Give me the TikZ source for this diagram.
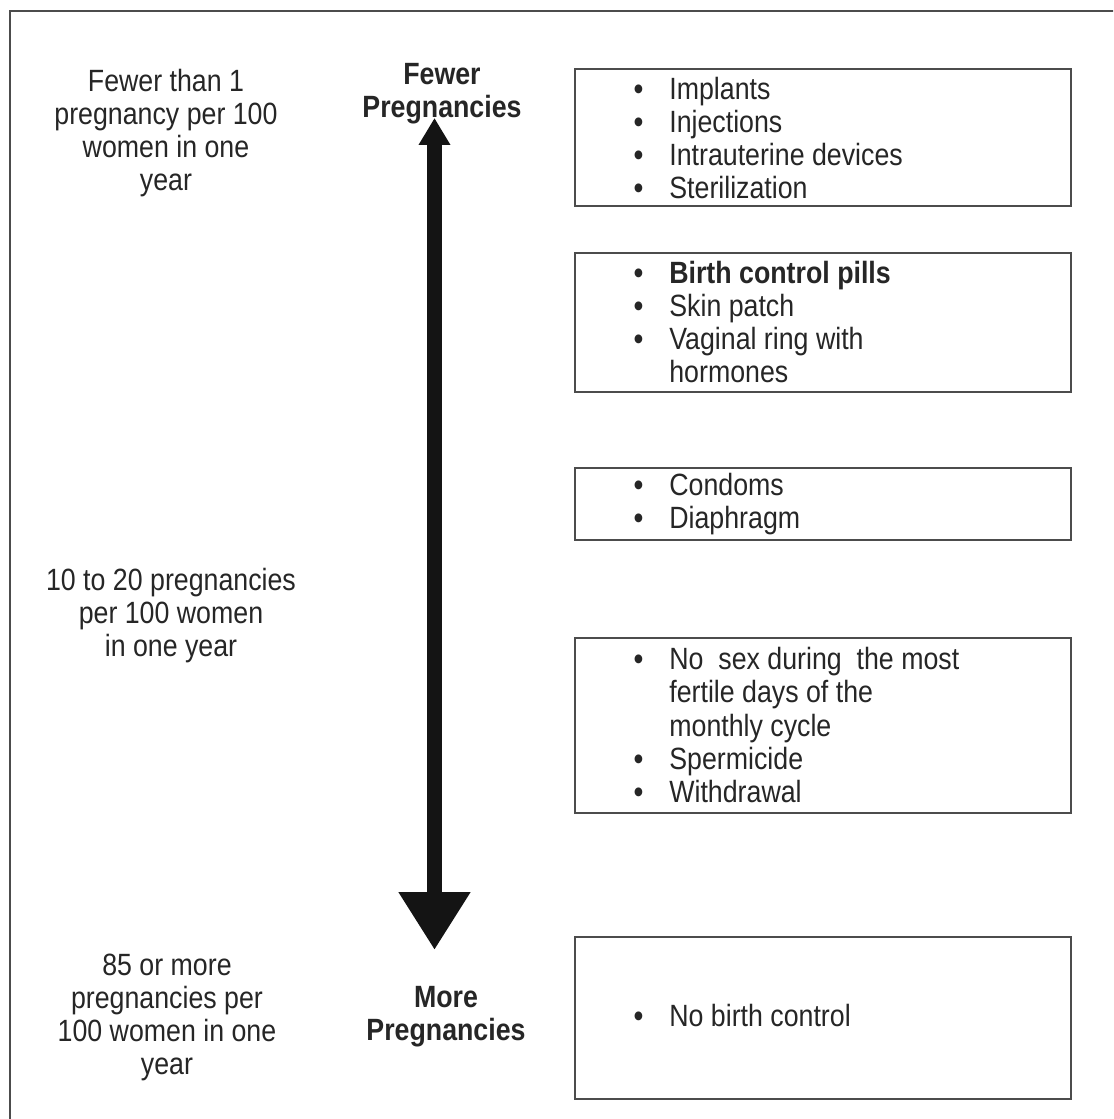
\documentclass[tikz,border=0pt]{standalone}
\usepackage{fontspec}
\setmainfont{Liberation Sans}[FakeStretch=0.87]
\usetikzlibrary{arrows.meta}
\newcommand{\bul}{\llap{{\bfseries\textbullet}\hspace{0.52cm}}}
\newcommand{\bigtxt}{\fontsize{17.5}{18.8}\selectfont}
\tikzset{
	frame/.style={line width=0.04cm, draw=black!70},
	box/.style={frame, minimum width=9.92cm, inner sep=0pt},
	list/.style={anchor=west, align=left, inner sep=0pt, text=black!85, font=\bigtxt},
	side/.style={align=center, inner sep=0pt, text=black!85, font=\bigtxt},
	heading/.style={side, font=\bigtxt\bfseries}
}

\begin{document}
\begin{tikzpicture}[x=0.02cm, y=-0.02cm]
		%%%%% START %%%%%
		\useasboundingbox (0, 0) rectangle (1113, 1119);
		\clip (0, 0) rectangle (1113, 1119);
		\fill[white] (0, 0) rectangle (1113, 1119);
		
		\draw[frame] (1200, 11) -- (10, 11) -- (10, 1200);
		
		\node[side] (lowrate) at (166, 133.5) {Fewer than 1\\pregnancy per 100\\women in one\\year};
		\node[side] (midrate) at (171, 616) {10 to 20 pregnancies\\per 100 women\\in one year};
		\node[side] (highrate) at (167, 1017.5) {85 or more\\pregnancies per\\100 women in one\\year};
		
		\node[heading] (fewer) at (442, 94) {Fewer\\Pregnancies};
		\node[heading] (more) at (446, 1017) {More\\Pregnancies};
		
		\coordinate (uptip) at (434.5, 118);
		\coordinate (downtip) at (434.5, 950);
		\draw[line width=0.3cm, black!92, {Triangle[length=0.54cm, width=0.6cm]}-{Triangle[length=1.16cm, width=1.36cm]}] (uptip) -- (downtip);
		
		\node[box, minimum height=2.74cm] (imp) at (823, 137.5) {};
		\node[list] (impL) at (669, 138) {\bul Implants\\\bul Injections\\\bul Intrauterine devices\\\bul Sterilization};
		
		\node[box, minimum height=2.78cm] (pill) at (823, 322.5) {};
		\node[list] (pillL) at (669, 322) {\bul\textbf{Birth control pills}\\\bul Skin patch\\\bul Vaginal ring with\\hormones};
		
		\node[box, minimum height=1.44cm] (barr) at (823, 504) {};
		\node[list] (barrL) at (669, 504) {\bul Condoms\\\bul Diaphragm};
		
		\node[box, minimum height=3.5cm] (nat) at (823, 725.5) {};
		\node[list] (natL) at (669, 725) {\bul No\ \ sex during\ \ the most\\fertile days of the\\monthly cycle\\\bul Spermicide\\\bul Withdrawal};
		
		\node[box, minimum height=3.24cm] (none) at (823, 1018) {};
		\node[list] (noneL) at (669, 1015) {\bul No birth control};
		
		%%%%% END %%%%%
	\end{tikzpicture}
\end{document}
